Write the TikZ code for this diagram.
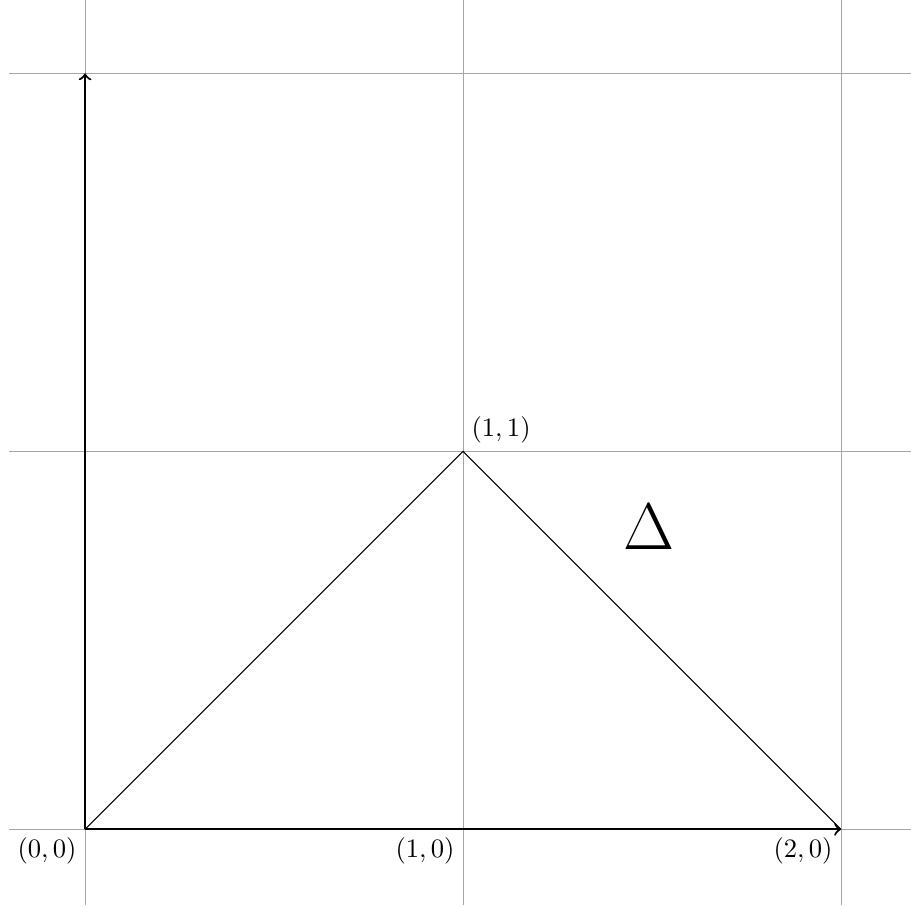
\documentclass[tikz,border=0pt]{standalone}
\begin{document}
\begin{tikzpicture}[x=5cm,y=5cm,
  gridline/.style={help lines,color=gray!70},
  axis/.style={thick,->},
  tri/.style={draw=black},
  lbl/.style={inner sep=3pt}]
\useasboundingbox (-0.225,-0.205) rectangle (2.185,2.194);
\draw[gridline,step=5cm] (-0.2,-0.2) grid (2.2,2.2);
\coordinate (O) at (0,0);
\coordinate (A) at (1,0);
\coordinate (B) at (2,0);
\coordinate (C) at (1,1);
\coordinate (Y) at (0,2);
\draw[axis] (O) -- (B);
\draw[axis] (O) -- (Y);
\draw[tri] (O) -- (C) -- (B);
\node[lbl,below left] (lO) at (O) {$(0,0)$};
\node[lbl,below left] (lA) at (A) {$(1,0)$};
\node[lbl,below left] (lB) at (B) {$(2,0)$};
\node[lbl,above right] (lC) at (C) {$(1,1)$};
\node (d) at (1.492,0.8) {\Huge $\Delta$};
\end{tikzpicture}
\end{document}
